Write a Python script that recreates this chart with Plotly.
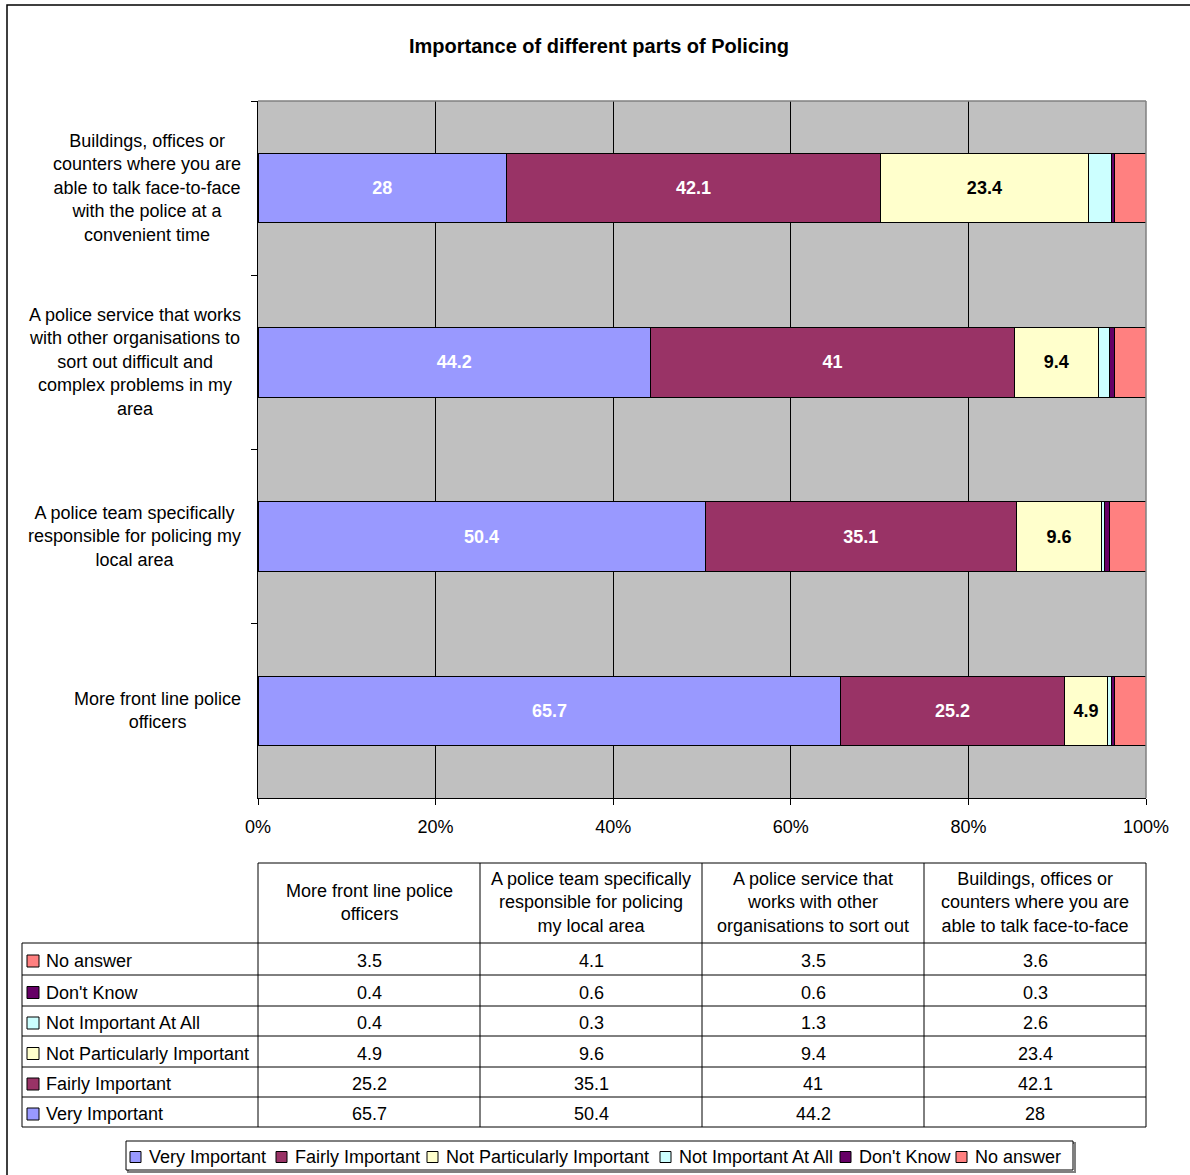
import plotly.graph_objects as go

W, H = 1190, 1175

categories = [
    "More front line police officers",
    "A police team specifically responsible for policing my local area",
    "A police service that works with other organisations to sort out difficult and complex problems in my area",
    "Buildings, offices or counters where you are able to talk face-to-face with the police at a convenient time",
]
axis_labels = [
    "More front line police<br>officers",
    "A police team specifically<br>responsible for policing my<br>local area",
    "A police service that works<br>with other organisations to<br>sort out difficult and<br>complex problems in my<br>area",
    "Buildings, offices or<br>counters where you are<br>able to talk face-to-face<br>with the police at a<br>convenient time",
]
table_headers = [
    "More front line police<br>officers",
    "A police team specifically<br>responsible for policing<br>my local area",
    "A police service that<br>works with other<br>organisations to sort out",
    "Buildings, offices or<br>counters where you are<br>able to talk face-to-face",
]
series_names = ["Very Important", "Fairly Important", "Not Particularly Important",
                "Not Important At All", "Don't Know", "No answer"]
very_important = [65.7, 50.4, 44.2, 28]
fairly_important = [25.2, 35.1, 41, 42.1]
not_particularly = [4.9, 9.6, 9.4, 23.4]
not_at_all = [0.4, 0.3, 1.3, 2.6]
dont_know = [0.4, 0.6, 0.6, 0.3]
no_answer = [3.5, 4.1, 3.5, 3.6]
series_values = [very_important, fairly_important, not_particularly, not_at_all, dont_know, no_answer]
colors = ["#9999FF", "#993366", "#FFFFCC", "#CCFFFF", "#660066", "#FF8080"]
label_colors = ["white", "white", "black", None, None, None]
x_ticks = [0, 20, 40, 60, 80, 100]

FONT = "Arial, Liberation Sans, sans-serif"

def px(x):
    return x / W

def py(y):
    return 1 - y / H

def fmt(v):
    return f"{v:g}"

fig = go.Figure()
for name, vals, col, lc in zip(series_names, series_values, colors, label_colors):
    fig.add_trace(go.Bar(
        name=name, y=categories, x=vals, orientation="h",
        marker=dict(color=col, line=dict(color="black", width=1)),
        text=[fmt(v) for v in vals] if lc else None,
        textposition="inside" if lc else "none",
        insidetextanchor="middle", textangle=0,
        textfont=dict(family=FONT, size=18, color=lc or "black", weight="bold"),
        hoverinfo="skip",
    ))

x0p, x1p = 258, 1146
y0p, y1p = 101, 798

fig.update_layout(
    width=W, height=H, autosize=False, barmode="stack", barnorm="percent", bargap=0.6,
    margin=dict(l=0, r=0, t=0, b=0, pad=0, autoexpand=False),
    paper_bgcolor="white", plot_bgcolor="#C0C0C0",
    showlegend=False,
    font=dict(family=FONT, size=18, color="black"),
    xaxis=dict(domain=[px(x0p), px(x1p)], range=[0, 100], tickvals=x_ticks,
               ticktext=[f"{t}%" for t in x_ticks], showgrid=True, gridcolor="black",
               gridwidth=1, showline=True, linecolor="black", linewidth=1,
               ticks="outside", ticklen=6, tickcolor="black", zeroline=False,
               ticklabelstandoff=6, tickfont=dict(size=18), automargin=False),
    yaxis=dict(domain=[py(y1p), py(y0p)], categoryorder="array", categoryarray=categories,
               showticklabels=False, ticks="outside", tickson="boundaries", ticklen=6,
               tickcolor="black", showline=True, linecolor="black", linewidth=1,
               showgrid=False, zeroline=False, automargin=False),
)

shapes = []
annotations = []

# plot area gray border (top and right)
shapes.append(dict(type="line", xref="paper", yref="paper", x0=px(x0p), x1=px(x1p),
                   y0=py(y0p), y1=py(y0p), line=dict(color="#808080", width=1.5)))
shapes.append(dict(type="line", xref="paper", yref="paper", x0=px(x1p), x1=px(x1p),
                   y0=py(y0p), y1=py(y1p), line=dict(color="#808080", width=1.5)))
# outer chart border
shapes.append(dict(type="rect", xref="paper", yref="paper", x0=px(7), x1=1.05,
                   y0=-0.05, y1=py(5), line=dict(color="black", width=1.5)))

# title
annotations.append(dict(text="<b>Importance of different parts of Policing</b>", xref="paper",
                        yref="paper", x=px(599), y=py(46), showarrow=False,
                        xanchor="center", yanchor="middle", font=dict(size=20)))

# y-axis labels
for cat, lab in zip(categories, axis_labels):
    annotations.append(dict(text=lab, xref="paper", yref="y", x=px(243), y=cat,
                            showarrow=False, xanchor="right", yanchor="middle",
                            align="center", font=dict(size=18)))

# data table
col_edges = [258, 480, 702, 924, 1146]
row_edges = [943, 975, 1006, 1036, 1067, 1097, 1127]
header_top = 863
lw = dict(color="black", width=1)
for xe in col_edges:
    shapes.append(dict(type="line", xref="paper", yref="paper", x0=px(xe), x1=px(xe),
                       y0=py(header_top), y1=py(row_edges[-1]), line=lw))
shapes.append(dict(type="line", xref="paper", yref="paper", x0=px(22), x1=px(22),
                   y0=py(row_edges[0]), y1=py(row_edges[-1]), line=lw))
shapes.append(dict(type="line", xref="paper", yref="paper", x0=px(258), x1=px(1146),
                   y0=py(header_top), y1=py(header_top), line=lw))
for ye in row_edges:
    shapes.append(dict(type="line", xref="paper", yref="paper", x0=px(22), x1=px(1146),
                       y0=py(ye), y1=py(ye), line=lw))

for i, hdr in enumerate(table_headers):
    cx = (col_edges[i] + col_edges[i + 1]) / 2
    annotations.append(dict(text=hdr, xref="paper", yref="paper", x=px(cx),
                            y=py((header_top + row_edges[0]) / 2 - 1), showarrow=False,
                            xanchor="center", yanchor="middle", align="center",
                            font=dict(size=18)))

order = list(range(len(series_names)))[::-1]
for r, si in enumerate(order):
    ytop, ybot = row_edges[r], row_edges[r + 1]
    cy = (ytop + ybot) / 2 + 2
    shapes.append(dict(type="rect", xref="paper", yref="paper", x0=px(27), x1=px(39),
                       y0=py(cy - 6), y1=py(cy + 6), fillcolor=colors[si],
                       line=dict(color="black", width=1)))
    annotations.append(dict(text=series_names[si], xref="paper", yref="paper", x=px(44),
                            y=py(cy), showarrow=False, xanchor="left", yanchor="middle",
                            font=dict(size=18)))
    for c in range(len(categories)):
        cx = (col_edges[c] + col_edges[c + 1]) / 2
        annotations.append(dict(text=fmt(series_values[si][c]), xref="paper", yref="paper",
                                x=px(cx), y=py(cy), showarrow=False, xanchor="center",
                                yanchor="middle", font=dict(size=18)))

# legend box
shapes.append(dict(type="rect", xref="paper", yref="paper", x0=px(128), x1=px(1075),
                   y0=py(1172), y1=py(1143), line=dict(color="#808080", width=2)))
shapes.append(dict(type="rect", xref="paper", yref="paper", x0=px(126), x1=px(1073),
                   y0=py(1170), y1=py(1141), fillcolor="white", line=dict(color="black", width=1)))
legend_sq_x = [130, 276, 427, 660, 840, 956]
for sx, name, col in zip(legend_sq_x, series_names, colors):
    cy = 1157
    shapes.append(dict(type="rect", xref="paper", yref="paper", x0=px(sx), x1=px(sx + 11),
                       y0=py(cy - 5.5), y1=py(cy + 5.5), fillcolor=col,
                       line=dict(color="black", width=1)))
    annotations.append(dict(text=name, xref="paper", yref="paper", x=px(sx + 17), y=py(cy),
                            showarrow=False, xanchor="left", yanchor="middle",
                            font=dict(size=18)))

fig.update_layout(shapes=shapes, annotations=annotations)

post = (
    "document.documentElement.style.margin='0';"
    "document.documentElement.style.padding='0';"
    "document.documentElement.style.overflow='hidden';"
    "document.body.style.margin='0';"
    "document.body.style.padding='0';"
    "document.body.style.overflow='hidden';"
)
fig.write_html("out.html", config={"responsive": False, "displayModeBar": False},
               post_script=post)
